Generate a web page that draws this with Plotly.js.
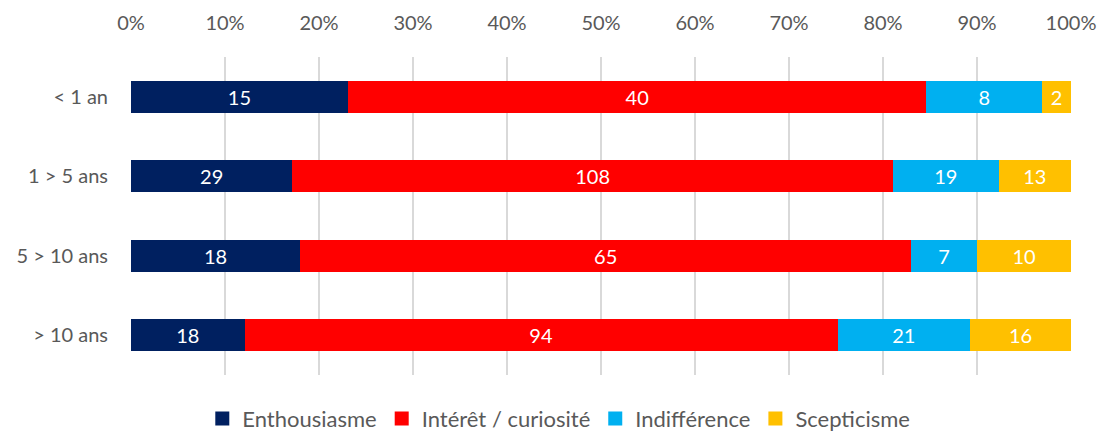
<!DOCTYPE html>
<html>
<head>
<meta charset="utf-8">
<script src="https://cdn.plot.ly/plotly-3.0.1.min.js"></script>
<style>html,body{margin:0;padding:0;background:#fff;}#chart{width:1100px;height:434px;}</style>
</head>
<body>
<div id="chart"></div>
<script>
const categories = ["< 1 an", "1 > 5 ans", "5 > 10 ans", "> 10 ans"];
const seriesNames = ["Enthousiasme", "Intérêt / curiosité", "Indifférence", "Scepticisme"];
const enthousiasme = [15, 29, 18, 18];
const interet = [40, 108, 65, 94];
const indifference = [8, 19, 7, 21];
const scepticisme = [2, 13, 10, 16];
const colors = ["#002060", "#FF0000", "#00B0F0", "#FFC000"];
const tickVals = [0, 10, 20, 30, 40, 50, 60, 70, 80, 90, 100];
const tickText = ["0%", "10%", "20%", "30%", "40%", "50%", "60%", "70%", "80%", "90%", "100%"];

const allSeries = [enthousiasme, interet, indifference, scepticisme];
const FONT = "Lato, 'Open Sans', sans-serif";

const barTraces = allSeries.map((vals, i) => ({
  type: "bar",
  orientation: "h",
  name: seriesNames[i],
  y: categories,
  x: vals,
  text: vals.map(String),
  textposition: "inside",
  insidetextanchor: "middle",
  textangle: 0,
  constraintext: "none",
  textfont: {family: FONT, size: 20, color: "#ffffff"},
  marker: {color: colors[i], line: {width: 0}},
  showlegend: false,
  hoverinfo: "none"
}));

// legend-only entries with larger square swatches
const legendTraces = seriesNames.map((name, i) => ({
  type: "scatter",
  mode: "markers",
  name: name,
  x: [null],
  y: [null],
  marker: {symbol: "square", size: 14, color: colors[i]},
  showlegend: true,
  hoverinfo: "none"
}));

const layout = {
  width: 1100,
  height: 434,
  barmode: "stack",
  barnorm: "percent",
  bargap: 0.6,
  margin: {l: 131, r: 29, t: 57, b: 59, pad: 0},
  paper_bgcolor: "#ffffff",
  plot_bgcolor: "#ffffff",
  font: {family: FONT, size: 20, color: "#595959"},
  xaxis: {
    side: "top",
    range: [0, 100],
    tickvals: tickVals,
    ticktext: tickText,
    showgrid: true,
    gridcolor: "#d9d9d9",
    gridwidth: 2,
    zeroline: false,
    showline: false,
    ticks: "",
    ticklabelstandoff: 22,
    tickfont: {family: FONT, size: 20, color: "#595959"},
    fixedrange: true
  },
  yaxis: {
    type: "category",
    categoryorder: "array",
    categoryarray: categories,
    autorange: "reversed",
    showgrid: false,
    zeroline: false,
    showline: false,
    ticks: "",
    ticklabelstandoff: 22,
    tickfont: {family: FONT, size: 20, color: "#595959"},
    fixedrange: true
  },
  showlegend: true,
  legend: {
    orientation: "h",
    xref: "container",
    yref: "container",
    x: 0.508,
    xanchor: "center",
    y: 0.035,
    yanchor: "middle",
    font: {family: FONT, size: 22, color: "#595959"},
    traceorder: "normal",
    bgcolor: "rgba(0,0,0,0)"
  }
};

Plotly.newPlot("chart", barTraces.concat(legendTraces), layout, {displayModeBar: false, staticPlot: true});
</script>
</body>
</html>
